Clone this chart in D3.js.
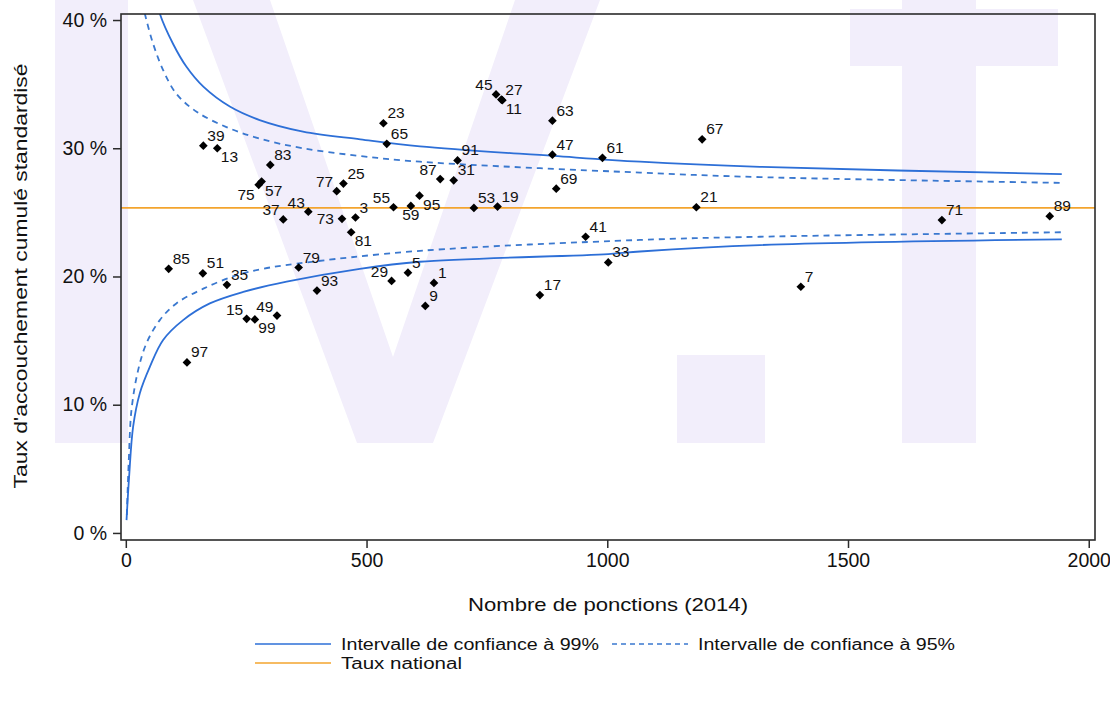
<!DOCTYPE html>
<html>
<head>
<meta charset="utf-8">
<script src="https://cdn.jsdelivr.net/npm/d3@7"></script>
<style>
  body { margin: 0; background: #fff; }
  text { font-family: Arial, "Liberation Sans", sans-serif; fill: #111; }
</style>
</head>
<body>
<div id="wrapper"></div>
<script>
// departments (label), number of punctures (2014), standardised cumulative rate (%)
const deptLabels = ['1', '3', '5', '7', '9', '11', '13', '15', '17', '19', '21', '23', '25', '27', '29', '31', '33', '35', '37', '39', '41', '43', '45', '47', '49', '51', '53', '55', '57', '59', '61', '63', '65', '67', '69', '71', '73', '75', '77', '79', '81', '83', '85', '87', '89', '91', '93', '95', '97', '99'];
const deptPunctures = [640, 477, 586, 1402, 622, 782, 190, 251, 860, 772, 1185, 535, 452, 780, 552, 681, 1002, 210, 327, 161, 955, 379, 769, 886, 314, 160, 723, 556, 282, 592, 990, 886, 542, 1197, 894, 1695, 449, 276, 438, 359, 468, 300, 89, 653, 1919, 689, 397, 610, 127, 268];
const deptRates = [19.5, 24.6, 20.3, 19.2, 17.7, 33.75, 30.0, 16.7, 18.55, 25.45, 25.4, 31.95, 27.25, 33.8, 19.65, 27.5, 21.1, 19.35, 24.45, 30.2, 23.1, 25.05, 34.2, 29.5, 16.95, 20.25, 25.35, 25.4, 27.4, 25.5, 29.25, 32.15, 30.35, 30.7, 26.85, 24.4, 24.5, 27.15, 26.65, 20.7, 23.45, 28.7, 20.6, 27.6, 24.7, 29.05, 18.9, 26.3, 13.3, 16.65];
// where the label sits around the marker
const deptLabelPos = ['ur', 'ur', 'ur', 'ur', 'ur', 'lr', 'lr', 'ul', 'ur', 'ur', 'ur', 'ur', 'ur', 'ur', 'ul', 'ur', 'ur', 'ur', 'ul', 'ur', 'ur', 'ul', 'ul', 'ur', 'ul', 'ur', 'ur', 'ul', 'lr', 'b', 'ur', 'ur', 'ur', 'ur', 'ur', 'ur', 'l', 'll', 'ul', 'ur', 'lr', 'ur', 'ur', 'ul', 'ur', 'ur', 'ur', 'lr', 'ur', 'lr'];

const nationalRate = 25.35;

// funnel limits
const upper99N = [60, 70.6, 98, 126, 161, 216, 278, 368, 487, 611, 888, 1068, 1317, 1944];
const upper99R = [42.3, 40.5, 38.15, 36.35, 34.8, 33.25, 32.2, 31.3, 30.7, 30.15, 29.4, 28.95, 28.55, 27.98];
const lower99N = [1.5, 6.9, 15.2, 29.1, 49.9, 77.5, 119, 174.5, 244, 334, 486, 611, 1002, 1068, 1317, 1944];
const lower99R = [1.0, 4.4, 8.3, 10.9, 12.95, 15.05, 16.6, 17.9, 18.8, 19.6, 20.6, 21.15, 21.75, 21.95, 22.45, 22.9];
const upper95N = [30, 39.5, 56.7, 77.5, 105, 147, 209, 278, 368, 486, 611, 1068, 1317, 1944];
const upper95R = [42.2, 40.5, 38.15, 36.1, 34.25, 32.85, 31.65, 30.75, 30.0, 29.4, 28.95, 28.1, 27.75, 27.3];
const lower95N = [2.1, 6.2, 11.8, 25.6, 43, 70.6, 105, 161, 230, 285, 355, 611, 1068, 1317, 1944];
const lower95R = [1.4, 5.7, 9.6, 12.7, 14.8, 16.6, 17.9, 19.05, 20.1, 20.6, 21.0, 22.0, 22.85, 23.1, 23.45];

const xTicks = [0, 500, 1000, 1500, 2000];
const yTicks = [0, 10, 20, 30, 40];

function drawChart() {
  const dataset = deptLabels.map((d, i) => ({
    label: d, n: deptPunctures[i], rate: deptRates[i], pos: deptLabelPos[i]
  }));
  const zip = (ns, rs) => ns.map((n, i) => ({ n: n, rate: rs[i] }));

  const xAccessor = d => d.n;
  const yAccessor = d => d.rate;

  const blue = '#2d6fd7';
  const blueDash = '#3a78cf';
  const orange = '#f3a42e';
  const lavender = '#f2eefb';

  // dimensions
  let dimensions = {
    width: 1110,
    height: 703,
    margin: { top: 14, right: 15, bottom: 163, left: 121 },
  };
  dimensions.boundedWidth = dimensions.width - dimensions.margin.left - dimensions.margin.right;
  dimensions.boundedHeight = dimensions.height - dimensions.margin.top - dimensions.margin.bottom;

  const wrapper = d3.select('#wrapper')
    .append('svg')
    .attr('width', dimensions.width)
    .attr('height', dimensions.height);

  // background watermark "V.T" (page decoration)
  const mark = wrapper.append('g').attr('fill', lavender);
  mark.append('rect').attr('x', 55).attr('y', 0).attr('width', 73).attr('height', 443);
  mark.append('polygon').attr('points', '193,0 270,0 393,357 515,0 600,0 433,443 357,443');
  mark.append('rect').attr('x', 677).attr('y', 355).attr('width', 88).attr('height', 88);
  mark.append('rect').attr('x', 850).attr('y', 9).attr('width', 208).attr('height', 57);
  mark.append('rect').attr('x', 902).attr('y', 0).attr('width', 74).attr('height', 443);

  const bounds = wrapper.append('g')
    .attr('transform', `translate(${dimensions.margin.left},${dimensions.margin.top})`);

  // scales
  const xScale = d3.scaleLinear()
    .domain([-10, 2013])
    .range([0, dimensions.boundedWidth]);
  const yScale = d3.scaleLinear()
    .domain([-0.55, 40.47])
    .range([dimensions.boundedHeight, 0]);

  bounds.append('clipPath').attr('id', 'plot-clip')
    .append('rect')
    .attr('width', dimensions.boundedWidth)
    .attr('height', dimensions.boundedHeight);

  // national rate
  bounds.append('line')
    .attr('x1', 0)
    .attr('x2', dimensions.boundedWidth)
    .attr('y1', yScale(nationalRate))
    .attr('y2', yScale(nationalRate))
    .attr('stroke', orange)
    .attr('stroke-width', 1.6);

  // funnel limits
  const lineGenerator = d3.line()
    .x(d => xScale(xAccessor(d)))
    .y(d => yScale(yAccessor(d)))
    .curve(d3.curveCatmullRom.alpha(0.5));
  const curves = bounds.append('g').attr('clip-path', 'url(#plot-clip)');
  [[upper95N, upper95R], [lower95N, lower95R]].forEach(c => {
    curves.append('path')
      .attr('d', lineGenerator(zip(c[0], c[1])))
      .attr('fill', 'none')
      .attr('stroke', blueDash)
      .attr('stroke-width', 1.8)
      .attr('stroke-dasharray', '6 5');
  });
  [[upper99N, upper99R], [lower99N, lower99R]].forEach(c => {
    curves.append('path')
      .attr('d', lineGenerator(zip(c[0], c[1])))
      .attr('fill', 'none')
      .attr('stroke', blue)
      .attr('stroke-width', 1.8);
  });

  // points
  const symbol = d3.symbol().type(d3.symbolSquare).size(38);
  const pointGroups = bounds.append('g').selectAll('g')
    .data(dataset)
    .enter().append('g')
    .attr('transform', d => `translate(${xScale(xAccessor(d))},${yScale(yAccessor(d))})`);
  pointGroups.append('path')
    .attr('d', symbol)
    .attr('transform', 'rotate(45)')
    .attr('fill', '#000');
  const offsets = {
    ur: [4, -5, 'start'],
    lr: [3.5, 14, 'start'],
    ul: [-3.5, -4, 'end'],
    ll: [-4, 15, 'end'],
    l: [-8, 5.5, 'end'],
    b: [0, 14.5, 'middle'],
  };
  pointGroups.append('text')
    .attr('x', d => offsets[d.pos][0])
    .attr('y', d => offsets[d.pos][1])
    .style('text-anchor', d => offsets[d.pos][2])
    .style('font-size', '15.5px')
    .text(d => d.label);

  // frame
  bounds.append('rect')
    .attr('width', dimensions.boundedWidth)
    .attr('height', dimensions.boundedHeight)
    .attr('fill', 'none')
    .attr('stroke', '#2b2b2b')
    .attr('stroke-width', 1.6);

  // axes
  const xAxis = bounds.append('g')
    .attr('transform', `translate(0,${dimensions.boundedHeight})`)
    .call(d3.axisBottom(xScale).tickValues(xTicks).tickSize(8).tickPadding(5).tickSizeOuter(0)
      .tickFormat(d3.format('d')));
  const yAxis = bounds.append('g')
    .call(d3.axisLeft(yScale).tickValues(yTicks).tickSize(8).tickPadding(6).tickSizeOuter(0)
      .tickFormat(d => `${d} %`));
  [xAxis, yAxis].forEach(a => {
    a.select('.domain').remove();
    a.selectAll('.tick line').attr('stroke', '#2b2b2b').attr('stroke-width', 1.5);
    a.selectAll('.tick text')
      .style('font-size', '19.5px')
      .style('font-family', 'Arial, "Liberation Sans", sans-serif')
      .attr('fill', '#111');
  });

  wrapper.append('text')
    .attr('x', 608)
    .attr('y', 611)
    .style('font-size', '18.5px')
    .style('text-anchor', 'middle')
    .attr('textLength', 280)
    .attr('lengthAdjust', 'spacingAndGlyphs')
    .text('Nombre de ponctions (2014)');

  wrapper.append('text')
    .attr('transform', 'translate(27,276) rotate(-90)')
    .style('font-size', '18.5px')
    .style('text-anchor', 'middle')
    .attr('textLength', 425)
    .attr('lengthAdjust', 'spacingAndGlyphs')
    .text("Taux d'accouchement cumulé standardisé");

  // legend
  const legendItems = [
    { x: 255, y: 644, color: blue, dash: null, label: 'Intervalle de confiance à 99%', width: 258 },
    { x: 612, y: 644, color: blueDash, dash: '5 4', label: 'Intervalle de confiance à 95%', width: 257 },
    { x: 255, y: 663, color: orange, dash: null, label: 'Taux national', width: 121 },
  ];
  const legend = wrapper.append('g').selectAll('g')
    .data(legendItems)
    .enter().append('g')
    .attr('transform', d => `translate(${d.x},${d.y})`);
  legend.append('line')
    .attr('x1', 0)
    .attr('x2', 76)
    .attr('stroke', d => d.color)
    .attr('stroke-width', 1.6)
    .attr('stroke-dasharray', d => d.dash);
  legend.append('text')
    .attr('x', 86)
    .attr('y', 6)
    .style('font-size', '16px')
    .attr('textLength', d => d.width)
    .attr('lengthAdjust', 'spacingAndGlyphs')
    .text(d => d.label);
}
drawChart();
</script>
</body>
</html>
